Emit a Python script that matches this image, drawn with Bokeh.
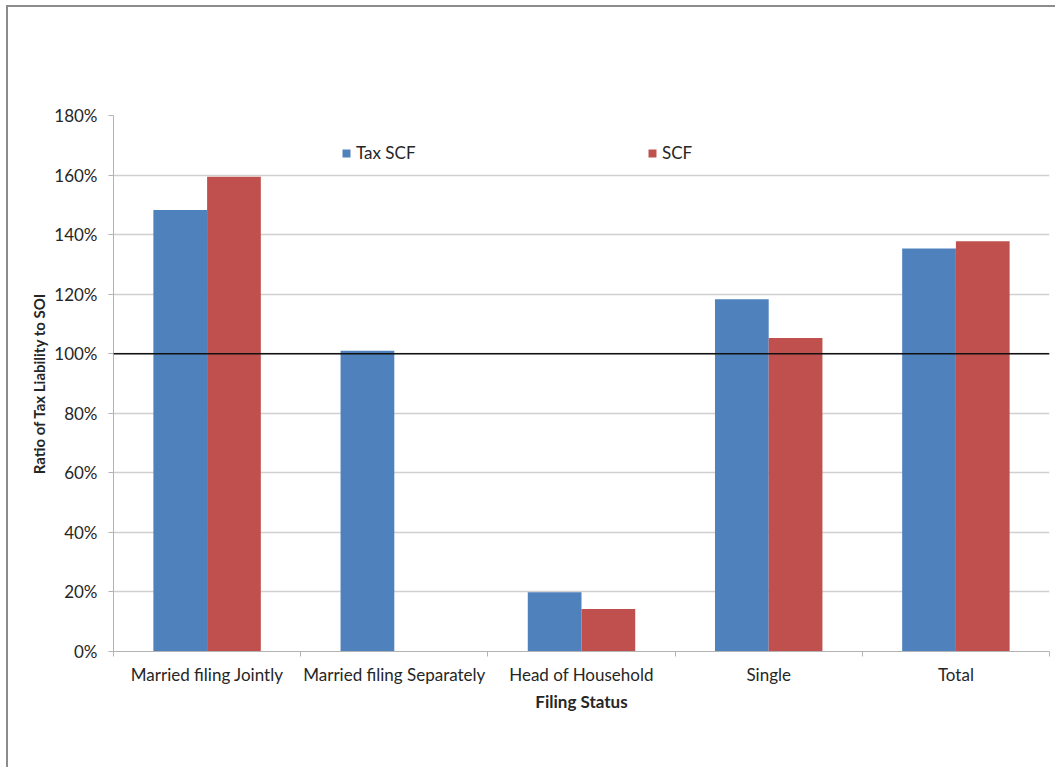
from bokeh.plotting import figure
from bokeh.models import (ColumnDataSource, Range1d, FixedTicker,
                          NumeralTickFormatter, Span, Legend, LegendItem)
from bokeh.transform import dodge
from bokeh.embed import file_html
from bokeh.resources import INLINE

# Filing-status categories and the ratio of tax liability to SOI for each source
categories = ["Married filing Jointly", "Married filing Separately", "Head of Household", "Single", "Total"]
tax_scf = [1.483, 1.010, 0.199, 1.183, 1.353]
scf = [1.594, float("nan"), 0.143, 1.053, 1.378]
y_ticks = [0.0, 0.2, 0.4, 0.6, 0.8, 1.0, 1.2, 1.4, 1.6, 1.8]
reference_level = 1.0

FONT = "Lato"
SIZE = "17px"
TEXT = "#262626"
BLUE = "#4F81BD"
RED = "#C0504D"

n = len(categories)
# each category occupies one unit slot on the x axis; bars sit around the slot centre
slot_centres = [i + 0.5 for i in range(n)]
source = ColumnDataSource(dict(cat=categories, slot=slot_centres, tax=tax_scf, scf=scf))

p = figure(
    width=1049, height=762,
    x_range=Range1d(0, n),
    y_range=Range1d(0, 1.8),
    output_backend="svg", toolbar_location=None,
    min_border_left=105, min_border_right=8, min_border_top=108, min_border_bottom=118,
)
p.margin = (5, 0, 0, 6)
p.styles = {"border-left": "2px solid #8c8c8c", "border-top": "2px solid #8c8c8c"}
p.outline_line_color = None
p.background_fill_color = "white"
p.border_fill_color = "white"

r_tax = p.vbar(x=dodge("slot", -0.1435), top="tax", width=0.287,
               source=source, fill_color=BLUE, line_color=None)
r_scf = p.vbar(x=dodge("slot", 0.1435), top="scf", width=0.287,
               source=source, fill_color=RED, line_color=None)

p.add_layout(Span(location=reference_level, dimension="width", line_color="#111111", line_width=1.5))

# Y axis
p.yaxis.ticker = FixedTicker(ticks=y_ticks)
p.yaxis.formatter = NumeralTickFormatter(format="0%")
p.yaxis.axis_label = "Ratio of Tax Liability to SOI"
p.yaxis.axis_label_text_font = FONT
p.yaxis.axis_label_text_font_style = "bold"
p.yaxis.axis_label_text_font_size = "15px"
p.yaxis.axis_label_text_color = TEXT
p.yaxis.axis_label_standoff = 3
p.yaxis.major_label_text_font = FONT
p.yaxis.major_label_text_font_size = SIZE
p.yaxis.major_label_text_color = TEXT
p.yaxis.major_label_standoff = 11
p.yaxis.axis_line_color = "#b3b3b3"
p.yaxis.major_tick_line_color = "#b3b3b3"
p.yaxis.major_tick_out = 5
p.yaxis.major_tick_in = 0
p.yaxis.minor_tick_line_color = None

p.ygrid.grid_line_color = "#d0d0d0"
p.ygrid.grid_line_width = 1.5
p.xgrid.grid_line_color = None

# X axis: labels centred in each slot, tick marks on the slot boundaries
xaxis = p.xaxis[0]
xaxis.ticker = FixedTicker(ticks=slot_centres, minor_ticks=list(range(n + 1)))
xaxis.major_label_overrides = {c: lab for c, lab in zip(slot_centres, categories)}
xaxis.major_tick_line_color = None
xaxis.major_tick_out = 0
xaxis.major_tick_in = 0
xaxis.minor_tick_line_color = "#b3b3b3"
xaxis.minor_tick_out = 5
xaxis.minor_tick_in = 0
xaxis.axis_line_color = "#b3b3b3"
xaxis.major_label_text_font = FONT
xaxis.major_label_text_font_size = SIZE
xaxis.major_label_text_color = TEXT
xaxis.major_label_standoff = 7
xaxis.axis_label = "Filing Status"
xaxis.axis_label_text_font = FONT
xaxis.axis_label_text_font_style = "bold"
xaxis.axis_label_text_font_size = SIZE
xaxis.axis_label_text_color = TEXT
xaxis.axis_label_standoff = 3

# Two single-item legends placed across the top of the plot area
def make_legend(label, renderer, x):
    lg = Legend(items=[LegendItem(label=label, renderers=[renderer])], location=(x, 488),
                orientation="horizontal", border_line_color=None, background_fill_alpha=0,
                padding=0, margin=0, glyph_width=10, glyph_height=10, label_standoff=5,
                label_height=10, label_text_font=FONT, label_text_font_size=SIZE,
                label_text_color=TEXT, label_text_baseline="middle")
    p.add_layout(lg, "center")

make_legend("Tax SCF", r_tax, 228)
make_legend("SCF", r_scf, 534)

open("out.html", "w").write(file_html(p, INLINE))
